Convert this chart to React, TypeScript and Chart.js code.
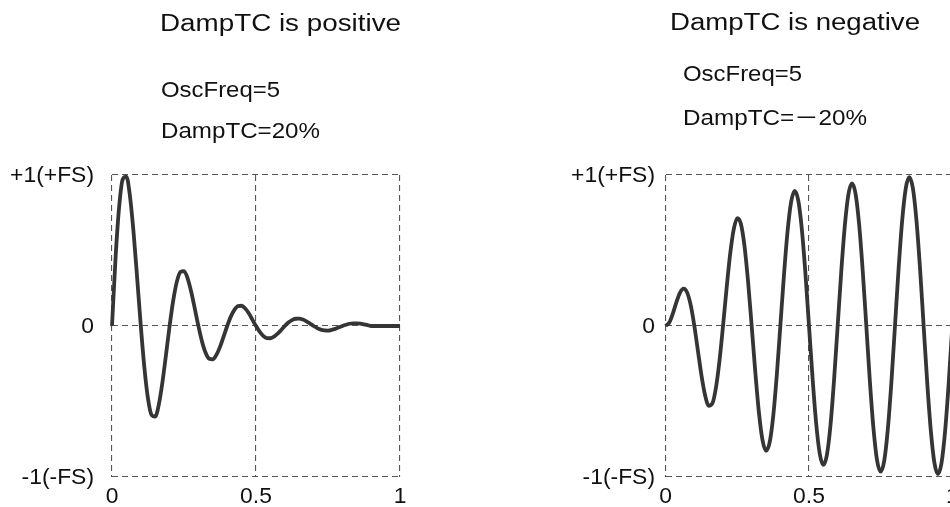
import React, { useEffect, useRef } from "react";
import { Chart, registerables } from "chart.js";

Chart.register(...registerables);

// ---------- data ----------
const tValues = [
  0, 0.0125, 0.025, 0.0375, 0.05, 0.0625, 0.075, 0.0875, 0.1, 0.1125, 0.125, 0.1375, 0.15, 0.1625, 0.175, 0.1875,
  0.2, 0.2125, 0.225, 0.2375, 0.25, 0.2625, 0.275, 0.2875, 0.3, 0.3125, 0.325, 0.3375, 0.35, 0.3625, 0.375, 0.3875,
  0.4, 0.4125, 0.425, 0.4375, 0.45, 0.4625, 0.475, 0.4875, 0.5, 0.5125, 0.525, 0.5375, 0.55, 0.5625, 0.575, 0.5875,
  0.6, 0.6125, 0.625, 0.6375, 0.65, 0.6625, 0.675, 0.6875, 0.7, 0.7125, 0.725, 0.7375, 0.75, 0.7625, 0.775, 0.7875,
  0.8, 0.8125, 0.825, 0.8375, 0.85, 0.8625, 0.875, 0.8875, 0.9, 0.9125, 0.925, 0.9375, 0.95, 0.9625, 0.975, 0.9875, 1,
];

const positiveDamp = [
  0, 0.457, 0.793, 0.973, 0.989, 0.858, 0.617, 0.314, 0, -0.277, -0.481, -0.59, -0.6, -0.521, -0.374, -0.19,
  0, 0.168, 0.292, 0.358, 0.364, 0.316, 0.227, 0.115, 0, -0.102, -0.177, -0.217, -0.221, -0.191, -0.138, -0.07,
  0, 0.062, 0.107, 0.132, 0.134, 0.116, 0.084, 0.042, 0, -0.037, -0.065, -0.08, -0.081, -0.071, -0.051, -0.026,
  0, 0.023, 0.039, 0.048, 0.049, 0.043, 0.031, 0.016, 0, -0.014, -0.024, -0.029, -0.03, -0.026, -0.019, -0.009,
  0, 0.008, 0.015, 0.018, 0.018, 0.016, 0.011, 0.006, 0, 0, 0, 0, 0, 0, 0, 0, 0,
];

const negativeDamp = [
  0, 0.023, 0.083, 0.158, 0.221, 0.248, 0.221, 0.136, 0, -0.165, -0.329, -0.459, -0.528, -0.514, -0.412, -0.233,
  0, 0.25, 0.478, 0.642, 0.714, 0.675, 0.528, 0.292, 0, -0.302, -0.568, -0.753, -0.826, -0.773, -0.599, -0.328,
  0, 0.334, 0.623, 0.82, 0.895, 0.832, 0.641, 0.349, 0, -0.347, -0.645, -0.846, -0.92, -0.853, -0.656, -0.356,
  0, 0.359, 0.665, 0.871, 0.945, 0.875, 0.671, 0.364, 0, -0.368, -0.68, -0.89, -0.965, -0.892, -0.684, -0.371,
  0, 0.376, 0.696, 0.91, 0.985, 0.912, 0.698, 0.378, 0, -0.375, -0.692, -0.905, -0.98, -0.906, -0.694, -0.376, 0,
];

const xTickValues = [0, 0.5, 1];
const xTickLabels = ["0", "0.5", "1"];
const yTickValues = [1, 0, -1];
const yTickLabels = ["+1(+FS)", "0", "-1(-FS)"];

const leftTitle = "DampTC is positive";
const rightTitle = "DampTC is negative";
const leftParams = ["OscFreq=5", "DampTC=20%"];
const rightParams = ["OscFreq=5", "DampTC=\uFF0D20%"];

// ---------- drawing helpers ----------
const FONT = '"Liberation Sans", Arial, Helvetica, "Noto Sans CJK JP", sans-serif';
const TEXT_COLOR = "#111111";
const LINE_COLOR = "#353535";
const GRID_COLOR = "#555555";

type TextItem = { text: string; x: number; y: number; size: number; width: number };

function drawStretched(
  ctx: CanvasRenderingContext2D,
  text: string,
  x: number,
  y: number,
  size: number,
  opts: { width?: number; stretch?: number; align?: "left" | "right" | "center"; baseline?: CanvasTextBaseline }
) {
  ctx.font = `${size}px ${FONT}`;
  ctx.textAlign = "left";
  ctx.textBaseline = opts.baseline || "alphabetic";
  const w0 = ctx.measureText(text).width;
  let sx = opts.stretch ?? 1;
  if (opts.width !== undefined && w0 > 0) sx = opts.width / w0;
  const total = w0 * sx;
  let left = x;
  if (opts.align === "right") left = x - total;
  else if (opts.align === "center") left = x - total / 2;
  ctx.save();
  ctx.translate(left, y);
  ctx.scale(sx, 1);
  ctx.fillText(text, 0, 0);
  ctx.restore();
}

type PanelProps = {
  pageX: number;
  canvasWidth: number;
  areaLeft: number;
  areaRight: number;
  areaTop: number;
  areaBottom: number;
  values: number[];
  texts: TextItem[];
  yLabelRight: number;
  xLabelBaseline: number;
};

const CANVAS_H = 507;

function Panel(p: PanelProps) {
  const ref = useRef<HTMLCanvasElement | null>(null);

  useEffect(() => {
    if (!ref.current) return;
    const textPlugin = {
      id: "panelText",
      afterDraw(chart: any) {
        const ctx: CanvasRenderingContext2D = chart.ctx;
        const xs = chart.scales.x;
        const ys = chart.scales.y;
        ctx.save();
        ctx.fillStyle = TEXT_COLOR;
        for (const t of p.texts) {
          drawStretched(ctx, t.text, t.x - p.pageX, t.y, t.size, { width: t.width });
        }
        yTickValues.forEach((v, i) => {
          drawStretched(ctx, yTickLabels[i], p.yLabelRight - p.pageX, ys.getPixelForValue(v) + 1, 22, {
            stretch: 1.04,
            align: "right",
            baseline: "middle",
          });
        });
        xTickValues.forEach((v, i) => {
          drawStretched(ctx, xTickLabels[i], xs.getPixelForValue(v), p.xLabelBaseline, 22, {
            stretch: 1.04,
            align: "center",
          });
        });
        ctx.restore();
      },
    };

    const chart = new Chart(ref.current, {
      type: "line",
      data: {
        datasets: [
          {
            data: tValues.map((t, i) => ({ x: t, y: p.values[i] })),
            borderColor: LINE_COLOR,
            borderWidth: 3.8,
            pointRadius: 0,
            fill: false,
            cubicInterpolationMode: "monotone",
            clip: false as any,
          },
        ],
      },
      options: {
        animation: false,
        responsive: false,
        events: [],
        layout: {
          autoPadding: false,
          padding: {
            left: p.areaLeft - p.pageX,
            right: p.pageX + p.canvasWidth - p.areaRight,
            top: p.areaTop,
            bottom: CANVAS_H - p.areaBottom,
          },
        },
        plugins: {
          legend: { display: false },
          tooltip: { enabled: false },
          title: { display: false },
        },
        scales: {
          x: {
            type: "linear",
            min: 0,
            max: 1,
            ticks: { display: false, stepSize: 0.5 },
            grid: { color: GRID_COLOR, lineWidth: 1.1, drawTicks: false },
            border: { display: false, dash: [6, 4] },
          },
          y: {
            type: "linear",
            min: -1,
            max: 1,
            ticks: { display: false, stepSize: 1 },
            grid: { color: GRID_COLOR, lineWidth: 1.1, drawTicks: false },
            border: { display: false, dash: [6, 4] },
          },
        },
      } as any,
      plugins: [textPlugin],
    });
    return () => chart.destroy();
  }, []);

  return (
    <canvas
      ref={ref}
      width={p.canvasWidth}
      height={CANVAS_H}
      style={{ position: "absolute", left: p.pageX, top: 0, width: p.canvasWidth, height: CANVAS_H }}
    />
  );
}

export default function App() {
  return (
    <div
      style={{
        position: "fixed",
        left: 0,
        top: 0,
        width: 950,
        height: 507,
        overflow: "hidden",
        background: "#ffffff",
      }}
    >
      <Panel
        pageX={0}
        canvasWidth={475}
        areaLeft={112}
        areaRight={400}
        areaTop={175}
        areaBottom={477}
        values={positiveDamp}
        texts={[
          { text: leftTitle, x: 160, y: 31, size: 23.5, width: 241 },
          { text: leftParams[0], x: 161, y: 97, size: 22, width: 119 },
          { text: leftParams[1], x: 161, y: 138, size: 22, width: 159 },
        ]}
        yLabelRight={94}
        xLabelBaseline={503}
      />
      <Panel
        pageX={475}
        canvasWidth={500}
        areaLeft={665.7}
        areaRight={952.3}
        areaTop={175}
        areaBottom={477}
        values={negativeDamp}
        texts={[
          { text: rightTitle, x: 670, y: 30, size: 23.5, width: 250 },
          { text: rightParams[0], x: 683, y: 81, size: 22, width: 119 },
          { text: rightParams[1], x: 683, y: 125, size: 22, width: 184 },
        ]}
        yLabelRight={655}
        xLabelBaseline={503}
      />
    </div>
  );
}
